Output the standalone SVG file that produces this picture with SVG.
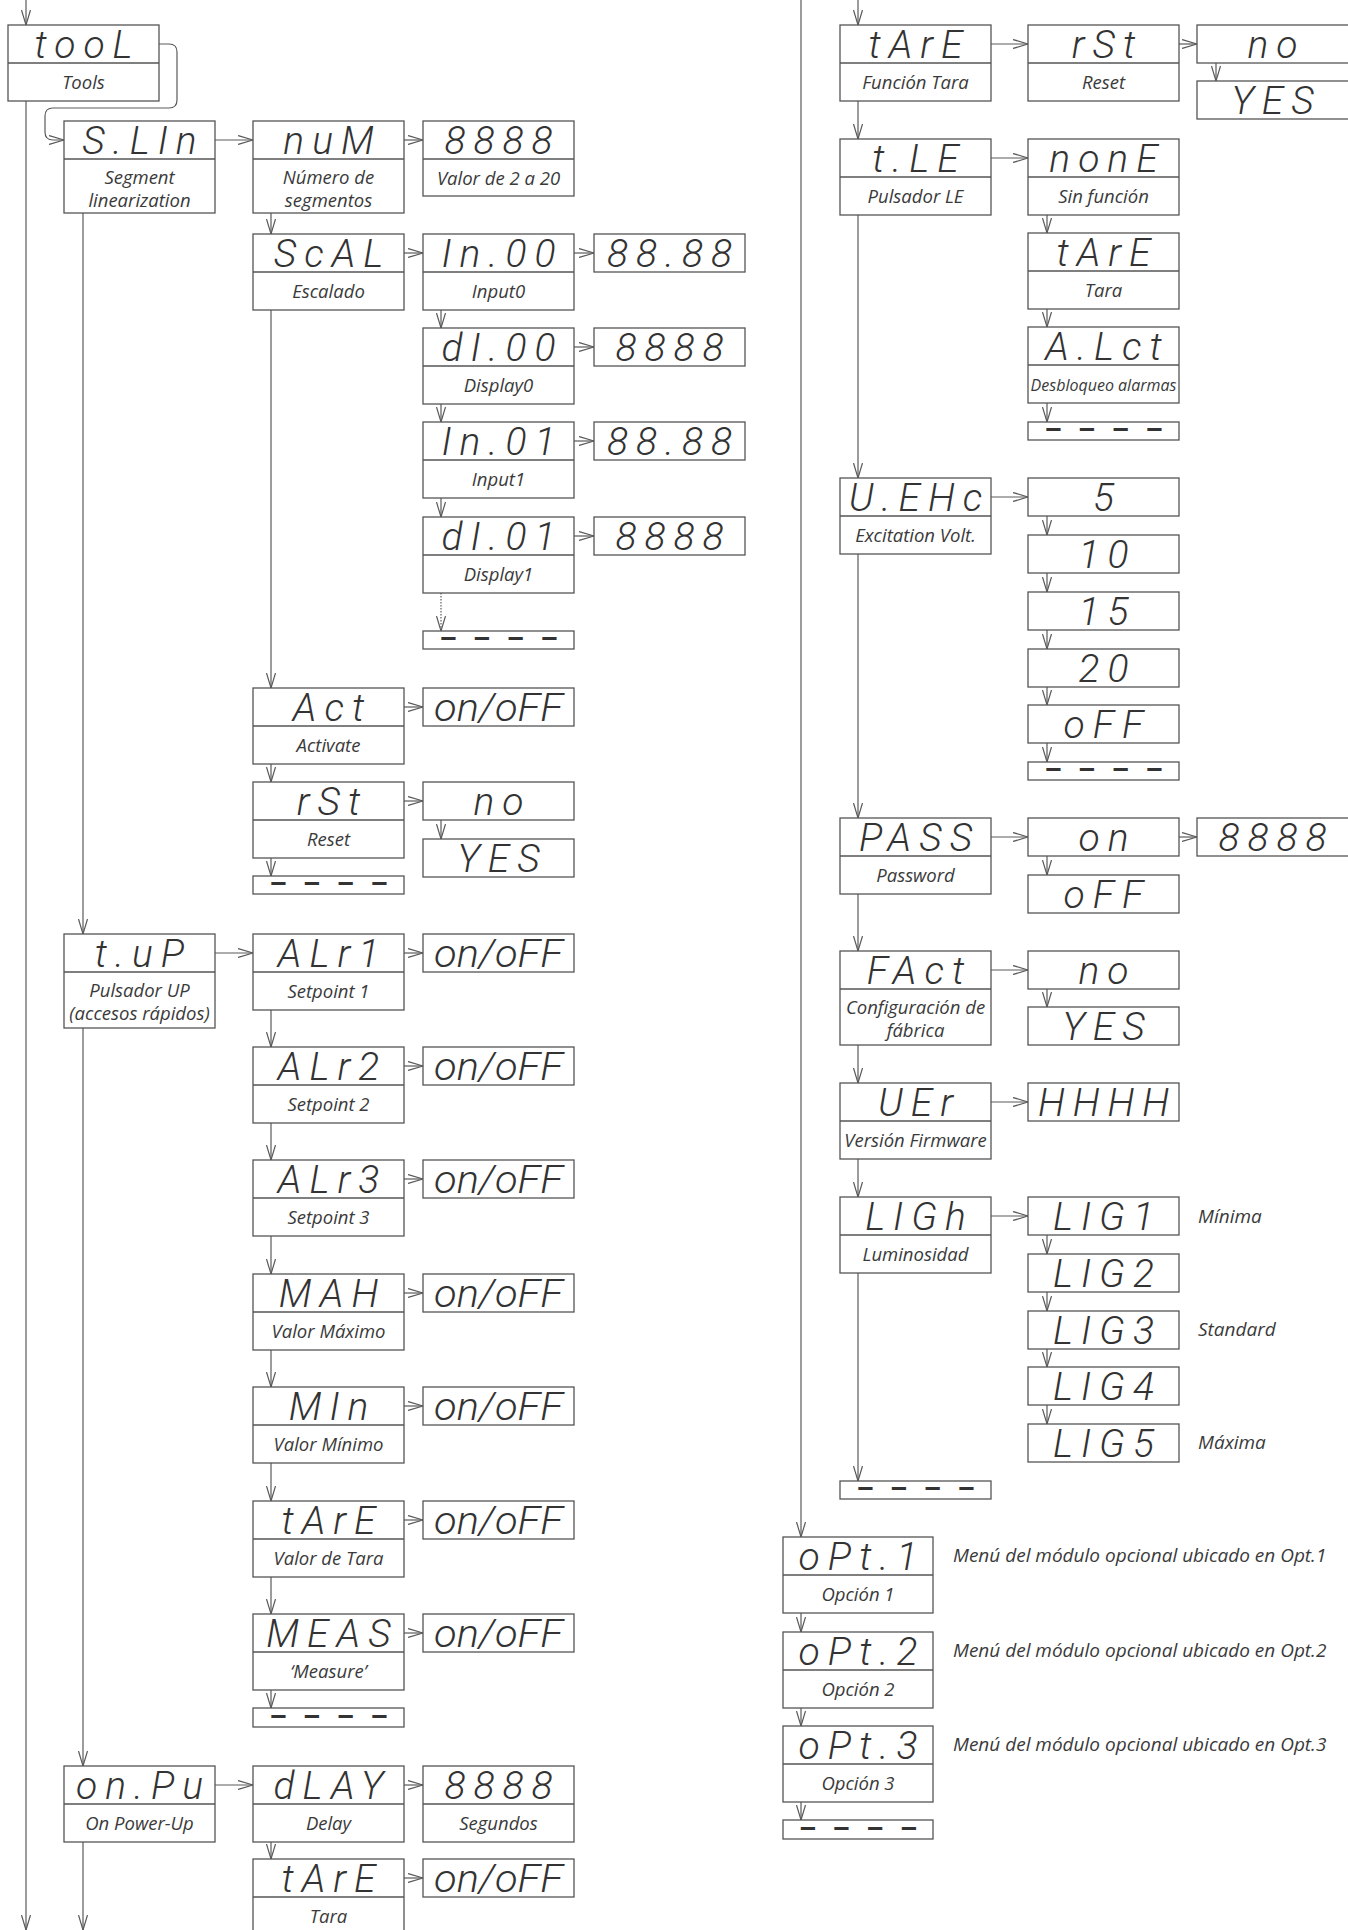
<svg xmlns="http://www.w3.org/2000/svg" width="1348" height="1930" viewBox="0 0 1348 1930">
<defs>
<marker id="a" markerWidth="16" markerHeight="10" refX="15" refY="5" orient="auto" markerUnits="userSpaceOnUse"><path d="M0,0.5 L15,5 L0,9.5" fill="none" stroke="#5a5a5a" stroke-width="1.2"/></marker>
</defs>
<style>
.b{fill:#fff;stroke:#555;stroke-width:1.3}
.d{stroke:#555;stroke-width:1.3}
.s{font-family:Roboto,"DejaVu Sans",sans-serif;font-weight:300;font-style:italic;font-size:39px;fill:#333;text-anchor:middle;letter-spacing:8px}
.l{font-family:"Open Sans","DejaVu Sans",sans-serif;font-style:italic;font-size:18.5px;fill:#3a3a3a;text-anchor:middle}
.n{font-family:"Open Sans","DejaVu Sans",sans-serif;font-style:italic;font-size:19px;fill:#3a3a3a}
.e{font-family:Roboto,"DejaVu Sans",sans-serif;font-weight:700;font-size:28px;fill:#333;text-anchor:middle;letter-spacing:16px}
#conn path{fill:none;stroke:#5a5a5a;stroke-width:1.2;marker-end:url(#a)}
</style>
<rect width="1348" height="1930" fill="#fff"/>
<g id="conn">
<path d="M26,0 V25"/>
<path d="M26,101 V1930"/>
<path d="M159,44 H169 Q177,44 177,52 V100 Q177,108 169,108 H53 Q45,108 45,116 V132 Q45,140 53,140 H64"/>
<path d="M83,213 V934"/>
<path d="M83,1028 V1766"/>
<path d="M83,1842 V1930"/>
<path d="M215,140 H253"/>
<path d="M404,140 H423"/>
<path d="M271,213 V234"/>
<path d="M404,253 H423"/>
<path d="M574,253 H594"/>
<path d="M441,310 V328"/>
<path d="M574,347 H594"/>
<path d="M441,404 V422"/>
<path d="M574,441 H594"/>
<path d="M441,498 V517"/>
<path d="M574,536 H594"/>
<path d="M441,593 V631" stroke-dasharray="1.5 1.5"/>
<path d="M271,310 V688"/>
<path d="M404,707 H423"/>
<path d="M271,764 V782"/>
<path d="M404,801 H423"/>
<path d="M441,820 V839"/>
<path d="M271,858 V876"/>
<path d="M215,953 H253"/>
<path d="M404,953 H423"/>
<path d="M271,1010 V1047"/>
<path d="M404,1066 H423"/>
<path d="M271,1123 V1160"/>
<path d="M404,1179 H423"/>
<path d="M271,1236 V1274"/>
<path d="M404,1293 H423"/>
<path d="M271,1350 V1387"/>
<path d="M404,1406 H423"/>
<path d="M271,1463 V1501"/>
<path d="M404,1520 H423"/>
<path d="M271,1577 V1614"/>
<path d="M404,1633 H423"/>
<path d="M271,1690 V1708"/>
<path d="M215,1785 H253"/>
<path d="M404,1785 H423"/>
<path d="M271,1842 V1859"/>
<path d="M404,1878 H423"/>
<path d="M801,0 V1537"/>
<path d="M858,0 V25"/>
<path d="M991,44 H1028"/>
<path d="M1179,44 H1197"/>
<path d="M1216,63 V81"/>
<path d="M858,101 V139"/>
<path d="M991,158 H1028"/>
<path d="M1047,215 V233"/>
<path d="M1047,309 V327"/>
<path d="M1047,403 V422"/>
<path d="M858,215 V478"/>
<path d="M991,497 H1028"/>
<path d="M1047,516 V535"/>
<path d="M1047,573 V592"/>
<path d="M1047,630 V649"/>
<path d="M1047,687 V705"/>
<path d="M1047,743 V762"/>
<path d="M858,554 V818"/>
<path d="M991,837 H1028"/>
<path d="M1179,837 H1197"/>
<path d="M1047,856 V875"/>
<path d="M858,894 V951"/>
<path d="M991,970 H1028"/>
<path d="M1047,989 V1007"/>
<path d="M858,1045 V1083"/>
<path d="M991,1102 H1028"/>
<path d="M858,1159 V1197"/>
<path d="M991,1216 H1028"/>
<path d="M1047,1235 V1254"/>
<path d="M1047,1292 V1311"/>
<path d="M1047,1349 V1367"/>
<path d="M1047,1405 V1424"/>
<path d="M858,1273 V1481"/>
<path d="M801,1613 V1632"/>
<path d="M801,1708 V1726"/>
<path d="M801,1802 V1820"/>
</g>

<g id="tool"><rect class="b" x="8" y="25" width="151" height="76"/><line class="d" x1="8" y1="63" x2="159" y2="63"/><text class="s" x="87.5" y="58">tooL</text><text class="l" x="83.5" y="89">Tools</text></g>
<g id="slin"><rect class="b" x="64" y="121" width="151" height="92"/><line class="d" x1="64" y1="159" x2="215" y2="159"/><text class="s" x="143.5" y="154">S.LIn</text><text class="l" x="139.5" y="184">Segment</text><text class="l" x="139.5" y="207">linearization</text></g>
<g id="num"><rect class="b" x="253" y="121" width="151" height="92"/><line class="d" x1="253" y1="159" x2="404" y2="159"/><text class="s" x="332.5" y="154">nuM</text><text class="l" x="328.5" y="184">Número de</text><text class="l" x="328.5" y="207">segmentos</text></g>
<g id="num_val"><rect class="b" x="423" y="121" width="151" height="75"/><line class="d" x1="423" y1="159" x2="574" y2="159"/><text class="s" x="502.5" y="154">8888</text><text class="l" x="498.5" y="185">Valor de 2 a 20</text></g>
<g id="scal"><rect class="b" x="253" y="234" width="151" height="76"/><line class="d" x1="253" y1="272" x2="404" y2="272"/><text class="s" x="332.5" y="267">ScAL</text><text class="l" x="328.5" y="298">Escalado</text></g>
<g id="in00"><rect class="b" x="423" y="234" width="151" height="76"/><line class="d" x1="423" y1="272" x2="574" y2="272"/><text class="s" x="502.5" y="267">In.00</text><text class="l" x="498.5" y="298">Input0</text></g>
<g id="in00_val"><rect class="b" x="594" y="234" width="151" height="38"/><text class="s" x="673.5" y="267">88.88</text></g>
<g id="di00"><rect class="b" x="423" y="328" width="151" height="76"/><line class="d" x1="423" y1="366" x2="574" y2="366"/><text class="s" x="502.5" y="361">dI.00</text><text class="l" x="498.5" y="392">Display0</text></g>
<g id="di00_val"><rect class="b" x="594" y="328" width="151" height="38"/><text class="s" x="673.5" y="361">8888</text></g>
<g id="in01"><rect class="b" x="423" y="422" width="151" height="76"/><line class="d" x1="423" y1="460" x2="574" y2="460"/><text class="s" x="502.5" y="455">In.01</text><text class="l" x="498.5" y="486">Input1</text></g>
<g id="in01_val"><rect class="b" x="594" y="422" width="151" height="38"/><text class="s" x="673.5" y="455">88.88</text></g>
<g id="di01"><rect class="b" x="423" y="517" width="151" height="76"/><line class="d" x1="423" y1="555" x2="574" y2="555"/><text class="s" x="502.5" y="550">dI.01</text><text class="l" x="498.5" y="581">Display1</text></g>
<g id="di01_val"><rect class="b" x="594" y="517" width="151" height="38"/><text class="s" x="673.5" y="550">8888</text></g>
<g id="scal_end"><rect class="b" x="423" y="631" width="151" height="18"/><text class="e" x="506.5" y="648">––––</text></g>
<g id="act"><rect class="b" x="253" y="688" width="151" height="76"/><line class="d" x1="253" y1="726" x2="404" y2="726"/><text class="s" x="332.5" y="721">Act</text><text class="l" x="328.5" y="752">Activate</text></g>
<g id="act_val"><rect class="b" x="423" y="688" width="151" height="38"/><text class="s" x="498.5" y="721" textLength="129" lengthAdjust="spacingAndGlyphs" style="letter-spacing:0">on/oFF</text></g>
<g id="rst"><rect class="b" x="253" y="782" width="151" height="76"/><line class="d" x1="253" y1="820" x2="404" y2="820"/><text class="s" x="332.5" y="815">rSt</text><text class="l" x="328.5" y="846">Reset</text></g>
<g id="rst_no"><rect class="b" x="423" y="782" width="151" height="38"/><text class="s" x="502.5" y="815">no</text></g>
<g id="rst_yes"><rect class="b" x="423" y="839" width="151" height="38"/><text class="s" x="502.5" y="872">YES</text></g>
<g id="slin_end"><rect class="b" x="253" y="876" width="151" height="18"/><text class="e" x="336.5" y="893">––––</text></g>

<g id="tup"><rect class="b" x="64" y="934" width="151" height="94"/><line class="d" x1="64" y1="972" x2="215" y2="972"/><text class="s" x="143.5" y="967">t.uP</text><text class="l" x="139.5" y="997">Pulsador UP</text><text class="l" x="139.5" y="1020">(accesos rápidos)</text></g>
<g id="alr1"><rect class="b" x="253" y="934" width="151" height="76"/><line class="d" x1="253" y1="972" x2="404" y2="972"/><text class="s" x="332.5" y="967">ALr1</text><text class="l" x="328.5" y="998">Setpoint 1</text></g>
<g id="alr1_val"><rect class="b" x="423" y="934" width="151" height="38"/><text class="s" x="498.5" y="967" textLength="129" lengthAdjust="spacingAndGlyphs" style="letter-spacing:0">on/oFF</text></g>
<g id="alr2"><rect class="b" x="253" y="1047" width="151" height="76"/><line class="d" x1="253" y1="1085" x2="404" y2="1085"/><text class="s" x="332.5" y="1080">ALr2</text><text class="l" x="328.5" y="1111">Setpoint 2</text></g>
<g id="alr2_val"><rect class="b" x="423" y="1047" width="151" height="38"/><text class="s" x="498.5" y="1080" textLength="129" lengthAdjust="spacingAndGlyphs" style="letter-spacing:0">on/oFF</text></g>
<g id="alr3"><rect class="b" x="253" y="1160" width="151" height="76"/><line class="d" x1="253" y1="1198" x2="404" y2="1198"/><text class="s" x="332.5" y="1193">ALr3</text><text class="l" x="328.5" y="1224">Setpoint 3</text></g>
<g id="alr3_val"><rect class="b" x="423" y="1160" width="151" height="38"/><text class="s" x="498.5" y="1193" textLength="129" lengthAdjust="spacingAndGlyphs" style="letter-spacing:0">on/oFF</text></g>
<g id="mah"><rect class="b" x="253" y="1274" width="151" height="76"/><line class="d" x1="253" y1="1312" x2="404" y2="1312"/><text class="s" x="332.5" y="1307">MAH</text><text class="l" x="328.5" y="1338">Valor Máximo</text></g>
<g id="mah_val"><rect class="b" x="423" y="1274" width="151" height="38"/><text class="s" x="498.5" y="1307" textLength="129" lengthAdjust="spacingAndGlyphs" style="letter-spacing:0">on/oFF</text></g>
<g id="min"><rect class="b" x="253" y="1387" width="151" height="76"/><line class="d" x1="253" y1="1425" x2="404" y2="1425"/><text class="s" x="332.5" y="1420">MIn</text><text class="l" x="328.5" y="1451">Valor Mínimo</text></g>
<g id="min_val"><rect class="b" x="423" y="1387" width="151" height="38"/><text class="s" x="498.5" y="1420" textLength="129" lengthAdjust="spacingAndGlyphs" style="letter-spacing:0">on/oFF</text></g>
<g id="tare_v"><rect class="b" x="253" y="1501" width="151" height="76"/><line class="d" x1="253" y1="1539" x2="404" y2="1539"/><text class="s" x="332.5" y="1534">tArE</text><text class="l" x="328.5" y="1565">Valor de Tara</text></g>
<g id="tare_v_val"><rect class="b" x="423" y="1501" width="151" height="38"/><text class="s" x="498.5" y="1534" textLength="129" lengthAdjust="spacingAndGlyphs" style="letter-spacing:0">on/oFF</text></g>
<g id="meas"><rect class="b" x="253" y="1614" width="151" height="76"/><line class="d" x1="253" y1="1652" x2="404" y2="1652"/><text class="s" x="332.5" y="1647">MEAS</text><text class="l" x="328.5" y="1678">‘Measure’</text></g>
<g id="meas_val"><rect class="b" x="423" y="1614" width="151" height="38"/><text class="s" x="498.5" y="1647" textLength="129" lengthAdjust="spacingAndGlyphs" style="letter-spacing:0">on/oFF</text></g>
<g id="tup_end"><rect class="b" x="253" y="1708" width="151" height="19"/><text class="e" x="336.5" y="1726">––––</text></g>

<g id="onpu"><rect class="b" x="64" y="1766" width="151" height="76"/><line class="d" x1="64" y1="1804" x2="215" y2="1804"/><text class="s" x="143.5" y="1799">on.Pu</text><text class="l" x="139.5" y="1830">On Power-Up</text></g>
<g id="dlay"><rect class="b" x="253" y="1766" width="151" height="76"/><line class="d" x1="253" y1="1804" x2="404" y2="1804"/><text class="s" x="332.5" y="1799">dLAY</text><text class="l" x="328.5" y="1830">Delay</text></g>
<g id="dlay_val"><rect class="b" x="423" y="1766" width="151" height="76"/><line class="d" x1="423" y1="1804" x2="574" y2="1804"/><text class="s" x="502.5" y="1799">8888</text><text class="l" x="498.5" y="1830">Segundos</text></g>
<g id="tare_pu"><rect class="b" x="253" y="1859" width="151" height="80"/><line class="d" x1="253" y1="1897" x2="404" y2="1897"/><text class="s" x="332.5" y="1892">tArE</text><text class="l" x="328.5" y="1923">Tara</text></g>
<g id="tare_pu_val"><rect class="b" x="423" y="1859" width="151" height="38"/><text class="s" x="498.5" y="1892" textLength="129" lengthAdjust="spacingAndGlyphs" style="letter-spacing:0">on/oFF</text></g>

<g id="tare_f"><rect class="b" x="840" y="25" width="151" height="76"/><line class="d" x1="840" y1="63" x2="991" y2="63"/><text class="s" x="919.5" y="58">tArE</text><text class="l" x="915.5" y="89">Función Tara</text></g>
<g id="tare_rst"><rect class="b" x="1028" y="25" width="151" height="76"/><line class="d" x1="1028" y1="63" x2="1179" y2="63"/><text class="s" x="1107.5" y="58">rSt</text><text class="l" x="1103.5" y="89">Reset</text></g>
<g id="tare_no"><rect class="b" x="1197" y="25" width="152" height="38"/><text class="s" x="1276.5" y="58">no</text></g>
<g id="tare_yes"><rect class="b" x="1197" y="81" width="152" height="38"/><text class="s" x="1276.5" y="114">YES</text></g>
<g id="tle"><rect class="b" x="840" y="139" width="151" height="76"/><line class="d" x1="840" y1="177" x2="991" y2="177"/><text class="s" x="919.5" y="172">t.LE</text><text class="l" x="915.5" y="203">Pulsador LE</text></g>
<g id="tle_none"><rect class="b" x="1028" y="139" width="151" height="76"/><line class="d" x1="1028" y1="177" x2="1179" y2="177"/><text class="s" x="1107.5" y="172">nonE</text><text class="l" x="1103.5" y="203">Sin función</text></g>
<g id="tle_tare"><rect class="b" x="1028" y="233" width="151" height="76"/><line class="d" x1="1028" y1="271" x2="1179" y2="271"/><text class="s" x="1107.5" y="266">tArE</text><text class="l" x="1103.5" y="297">Tara</text></g>
<g id="tle_alct"><rect class="b" x="1028" y="327" width="151" height="76"/><line class="d" x1="1028" y1="365" x2="1179" y2="365"/><text class="s" x="1107.5" y="360">A.Lct</text><text class="l" x="1103.5" y="391" style="font-size:16px">Desbloqueo alarmas</text></g>
<g id="tle_end"><rect class="b" x="1028" y="422" width="151" height="18"/><text class="e" x="1111.5" y="439">––––</text></g>
<g id="uexc"><rect class="b" x="840" y="478" width="151" height="76"/><line class="d" x1="840" y1="516" x2="991" y2="516"/><text class="s" x="919.5" y="511">U.EHc</text><text class="l" x="915.5" y="542">Excitation Volt.</text></g>
<g id="v5"><rect class="b" x="1028" y="478" width="151" height="38"/><text class="s" x="1107.5" y="511">5</text></g>
<g id="v10"><rect class="b" x="1028" y="535" width="151" height="38"/><text class="s" x="1107.5" y="568">10</text></g>
<g id="v15"><rect class="b" x="1028" y="592" width="151" height="38"/><text class="s" x="1107.5" y="625">15</text></g>
<g id="v20"><rect class="b" x="1028" y="649" width="151" height="38"/><text class="s" x="1107.5" y="682">20</text></g>
<g id="voff"><rect class="b" x="1028" y="705" width="151" height="38"/><text class="s" x="1107.5" y="738">oFF</text></g>
<g id="uexc_end"><rect class="b" x="1028" y="762" width="151" height="18"/><text class="e" x="1111.5" y="779">––––</text></g>
<g id="pass"><rect class="b" x="840" y="818" width="151" height="76"/><line class="d" x1="840" y1="856" x2="991" y2="856"/><text class="s" x="919.5" y="851">PASS</text><text class="l" x="915.5" y="882">Password</text></g>
<g id="pass_on"><rect class="b" x="1028" y="818" width="151" height="38"/><text class="s" x="1107.5" y="851">on</text></g>
<g id="pass_val"><rect class="b" x="1197" y="818" width="152" height="38"/><text class="s" x="1276.5" y="851">8888</text></g>
<g id="pass_off"><rect class="b" x="1028" y="875" width="151" height="38"/><text class="s" x="1107.5" y="908">oFF</text></g>
<g id="fact"><rect class="b" x="840" y="951" width="151" height="94"/><line class="d" x1="840" y1="989" x2="991" y2="989"/><text class="s" x="919.5" y="984">FAct</text><text class="l" x="915.5" y="1014">Configuración de</text><text class="l" x="915.5" y="1037">fábrica</text></g>
<g id="fact_no"><rect class="b" x="1028" y="951" width="151" height="38"/><text class="s" x="1107.5" y="984">no</text></g>
<g id="fact_yes"><rect class="b" x="1028" y="1007" width="151" height="38"/><text class="s" x="1107.5" y="1040">YES</text></g>
<g id="uer"><rect class="b" x="840" y="1083" width="151" height="76"/><line class="d" x1="840" y1="1121" x2="991" y2="1121"/><text class="s" x="919.5" y="1116">UEr</text><text class="l" x="915.5" y="1147">Versión Firmware</text></g>
<g id="uer_val"><rect class="b" x="1028" y="1083" width="151" height="38"/><text class="s" x="1107.5" y="1116">HHHH</text></g>
<g id="ligh"><rect class="b" x="840" y="1197" width="151" height="76"/><line class="d" x1="840" y1="1235" x2="991" y2="1235"/><text class="s" x="919.5" y="1230">LIGh</text><text class="l" x="915.5" y="1261">Luminosidad</text></g>
<g id="lig1"><rect class="b" x="1028" y="1197" width="151" height="38"/><text class="s" x="1107.5" y="1230">LIG1</text><text class="n" x="1198" y="1223">Mínima</text></g>
<g id="lig2"><rect class="b" x="1028" y="1254" width="151" height="38"/><text class="s" x="1107.5" y="1287">LIG2</text></g>
<g id="lig3"><rect class="b" x="1028" y="1311" width="151" height="38"/><text class="s" x="1107.5" y="1344">LIG3</text><text class="n" x="1198" y="1336">Standard</text></g>
<g id="lig4"><rect class="b" x="1028" y="1367" width="151" height="38"/><text class="s" x="1107.5" y="1400">LIG4</text></g>
<g id="lig5"><rect class="b" x="1028" y="1424" width="151" height="38"/><text class="s" x="1107.5" y="1457">LIG5</text><text class="n" x="1198" y="1449">Máxima</text></g>
<g id="ligh_end"><rect class="b" x="840" y="1481" width="151" height="18"/><text class="e" x="923.5" y="1498">––––</text></g>
<g id="opt1"><rect class="b" x="783" y="1537" width="150" height="76"/><line class="d" x1="783" y1="1575" x2="933" y2="1575"/><text class="s" x="862" y="1570">oPt.1</text><text class="l" x="858" y="1601">Opción 1</text><text class="n" x="953" y="1562">Menú del módulo opcional ubicado en Opt.1</text></g>
<g id="opt2"><rect class="b" x="783" y="1632" width="150" height="76"/><line class="d" x1="783" y1="1670" x2="933" y2="1670"/><text class="s" x="862" y="1665">oPt.2</text><text class="l" x="858" y="1696">Opción 2</text><text class="n" x="953" y="1657">Menú del módulo opcional ubicado en Opt.2</text></g>
<g id="opt3"><rect class="b" x="783" y="1726" width="150" height="76"/><line class="d" x1="783" y1="1764" x2="933" y2="1764"/><text class="s" x="862" y="1759">oPt.3</text><text class="l" x="858" y="1790">Opción 3</text><text class="n" x="953" y="1751">Menú del módulo opcional ubicado en Opt.3</text></g>
<g id="opt_end"><rect class="b" x="783" y="1820" width="150" height="19"/><text class="e" x="866" y="1838">––––</text></g>
</svg>
